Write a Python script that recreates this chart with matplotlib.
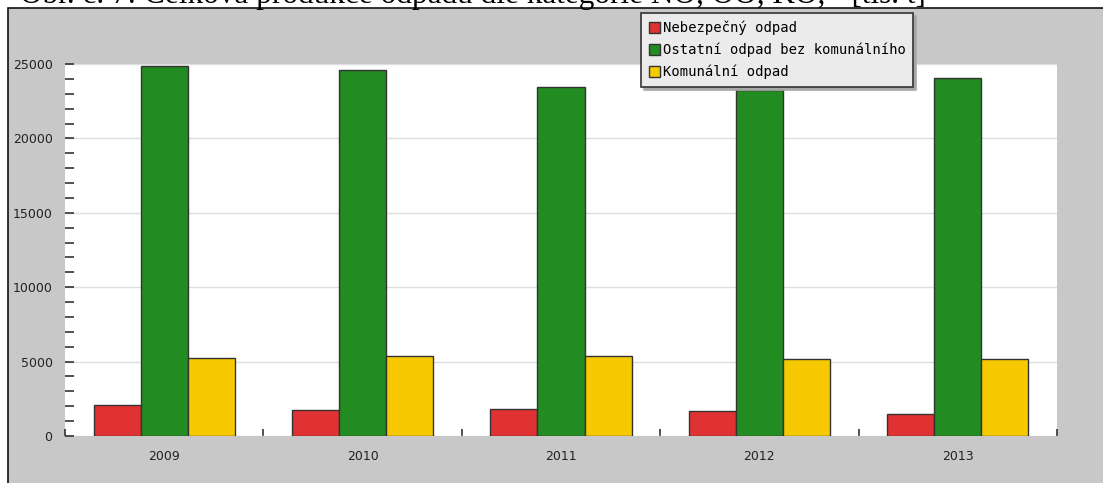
import numpy as np
import matplotlib.pyplot as plt
from matplotlib.patches import Rectangle

# data (tis. t)
years = ["2009", "2010", "2011", "2012", "2013"]
nebezpecny = [2090, 1730, 1820, 1690, 1480]
ostatni = [24850, 24630, 23450, 23270, 24040]
komunalni = [5260, 5390, 5390, 5190, 5190]
labels = ["Nebezpečný odpad", "Ostatní odpad bez komunálního", "Komunální odpad"]
colors = ["#e03232", "#228b22", "#f7c900"]

W, H = 1103, 483
fig = plt.figure(figsize=(W / 100, H / 100), dpi=100)
fig.patch.set_facecolor("white")

# grey panel behind the chart
bg = fig.add_axes([0, 0, 1, 1], zorder=0)
bg.set_xlim(0, W)
bg.set_ylim(H, 0)
bg.axis("off")
bg.add_patch(Rectangle((8, 8), W, H, facecolor="#c8c8c8", edgecolor="#111111", linewidth=1.2))

# title, cut off at the top of the picture
fig.text(20 / W, 1 - 3 / H, "Obr. č. 7: Celková produkce odpadu dle kategorie NO, OO, KO, - [tis. t]",
         family="Liberation Serif", fontsize=22.5, va="baseline", ha="left", color="black")

ax = fig.add_axes([65 / W, (H - 436) / H, 992 / W, 372 / H], zorder=2)
ax.set_facecolor("white")

x = np.arange(len(years))
w = 0.237
series = [nebezpecny, ostatni, komunalni]
for i, (vals, c, lab) in enumerate(zip(series, colors, labels)):
    ax.bar(x + (i - 1) * w, vals, width=w, color=c, edgecolor="#333333", linewidth=1.0,
           label=lab, zorder=3)

ax.set_xlim(-0.5, len(years) - 0.5)
ax.set_ylim(0, 25000)

ax.set_yticks(np.arange(0, 25001, 5000))
ax.set_yticks(np.arange(0, 25001, 1000), minor=True)
ax.yaxis.grid(True, which="major", color="#dedede", linewidth=1, zorder=0)
ax.tick_params(axis="y", which="both", direction="in", length=6.5, width=1.2,
               color="#333333", labelsize=9, labelcolor="#222222", pad=9)

ax.set_xticks(np.arange(len(years) + 1) - 0.5)
ax.set_xticklabels([])
ax.set_xticks(x, minor=True)
ax.set_xticklabels(years, minor=True)
ax.tick_params(axis="x", which="major", direction="in", length=5, width=1.2, color="#333333")
ax.tick_params(axis="x", which="minor", length=0, labelsize=9, labelcolor="#222222", pad=10)

for s in ax.spines.values():
    s.set_visible(False)

leg = ax.legend(loc="upper left", bbox_to_anchor=(641 / W, 1 - 13 / H),
                bbox_transform=fig.transFigure, prop={"family": "DejaVu Sans Mono", "size": 10},
                handlelength=0.85, handleheight=0.85, handletextpad=0.15, labelspacing=0.55,
                borderpad=0.55, borderaxespad=0, fancybox=False, framealpha=1,
                shadow={"color": "#a8a8a8", "alpha": 1})
leg.get_frame().set_facecolor("#ebebeb")
leg.get_frame().set_edgecolor("#333333")
leg.get_frame().set_linewidth(1.2)

fig.savefig("out.png", dpi=100)
